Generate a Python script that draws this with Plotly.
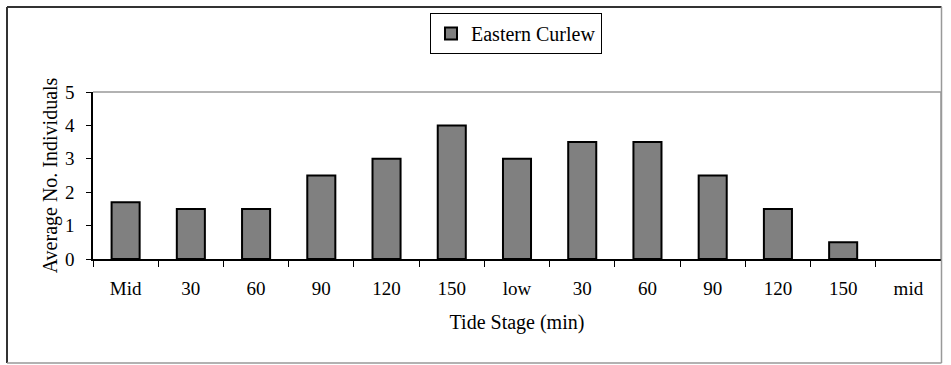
import plotly.graph_objects as go

tick_labels = ["Mid", "30", "60", "90", "120", "150", "low", "30", "60", "90", "120", "150", "mid"]
curlew = [1.7, 1.5, 1.5, 2.5, 3.0, 4.0, 3.0, 3.5, 3.5, 2.5, 1.5, 0.5, 0.0]
series_name = "Eastern Curlew"

W, H = 951, 365
L, R, T, B = 93, 10, 92, 106
pw = W - L - R
ph = H - T - B

def px_x(x):
    return (x - L) / pw

def px_y(y):
    return (H - B - y) / ph

positions = list(range(len(tick_labels)))
boundaries = [i - 0.5 for i in range(len(tick_labels) + 1)]

FONT = "Liberation Serif"
FS_TICK = 19
FS_TITLE = 20

fig = go.Figure()
fig.add_trace(go.Bar(
    x=positions, y=curlew, name=series_name,
    marker=dict(color="#808080",
                line=dict(color="black", width=[2 if v > 0 else 0 for v in curlew])),
    width=0.43, showlegend=True,
))
# invisible trace on the label axis
fig.add_trace(go.Scatter(x=positions, y=[None]*len(positions), xaxis="x2",
                         showlegend=False, hoverinfo="skip"))

fig.update_layout(
    width=W, height=H,
    margin=dict(l=L, r=R, t=T, b=B, autoexpand=False),
    paper_bgcolor="white", plot_bgcolor="white",
    font=dict(family=FONT, size=FS_TICK, color="black"),
    xaxis=dict(range=[-0.5, 12.5], tickvals=boundaries, showticklabels=False,
               ticks="outside", ticklen=6, tickwidth=1, tickcolor="black",
               showline=True, linecolor="black", linewidth=1.5,
               showgrid=False, zeroline=False, fixedrange=True),
    xaxis2=dict(range=[-0.5, 12.5], overlaying="x", side="bottom",
                tickvals=positions, ticktext=tick_labels, ticks="",
                showline=False, showgrid=False, zeroline=False,
                tickfont=dict(family=FONT, size=FS_TICK), ticklabelstandoff=16,
                title=dict(text="Tide Stage (min)", font=dict(family=FONT, size=FS_TITLE), standoff=16),
                fixedrange=True),
    yaxis=dict(range=[0, 5], dtick=1, ticks="outside", ticklen=5, tickwidth=1,
               tickcolor="black", showline=True, linecolor="black", linewidth=1.5,
               showgrid=False, zeroline=False, tickfont=dict(family=FONT, size=FS_TICK),
               ticklabelstandoff=8,
               title=dict(text="Average No. Individuals", font=dict(family=FONT, size=FS_TITLE), standoff=2),
               fixedrange=True),
    legend=dict(x=px_x(430), y=px_y(13), xanchor="left", yanchor="top",
                bordercolor="black", borderwidth=1, bgcolor="white",
                font=dict(family=FONT, size=FS_TITLE), itemwidth=30),
    bargap=0.57,
)

# plot area top/right edges (grey)
fig.add_shape(type="line", xref="paper", yref="paper", x0=0, x1=1, y0=1, y1=1,
              line=dict(color="#999999", width=1.5))
fig.add_shape(type="line", xref="paper", yref="paper", x0=1, x1=1, y0=0, y1=1,
              line=dict(color="#999999", width=1.5))
# outer chart border
bx0, bx1, by0, by1 = px_x(7), px_x(941.5), px_y(363), px_y(7)
fig.add_shape(type="line", xref="paper", yref="paper", x0=bx0, x1=bx1, y0=by1, y1=by1,
              line=dict(color="#333333", width=2))
fig.add_shape(type="line", xref="paper", yref="paper", x0=bx0, x1=bx0, y0=by0, y1=by1,
              line=dict(color="#333333", width=2))
fig.add_shape(type="line", xref="paper", yref="paper", x0=bx0, x1=bx1, y0=by0, y1=by0,
              line=dict(color="#999999", width=1.5))
fig.add_shape(type="line", xref="paper", yref="paper", x0=bx1, x1=bx1, y0=by0, y1=by1,
              line=dict(color="#999999", width=1.5))

fig.write_html("out.html")
